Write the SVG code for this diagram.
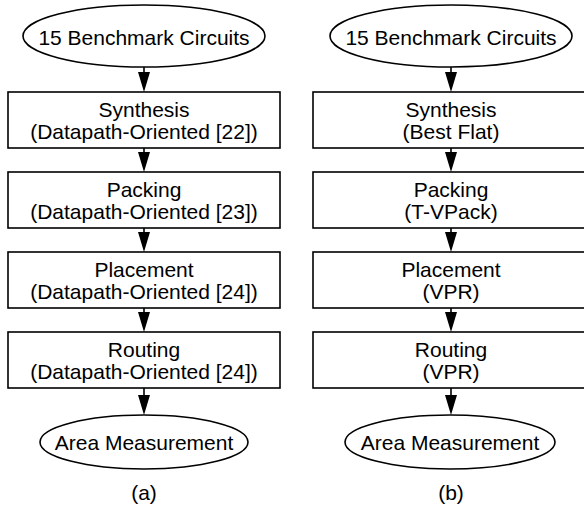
<svg xmlns="http://www.w3.org/2000/svg" width="584" height="510" viewBox="0 0 584 510">
  <style>
    .shape { fill: #ffffff; stroke: #000000; stroke-width: 1.6; }
    .edge { stroke: #000000; stroke-width: 1.6; fill: none; }
    .head { fill: #000000; stroke: none; }
    text { font-family: "Liberation Sans", Arial, sans-serif; font-size: 21px; fill: #000000; text-anchor: middle; }
  </style>
  <rect width="584" height="510" fill="#ffffff"/>

  <!-- flow (a): datapath-oriented CAD flow -->
  <g id="a-start">
    <ellipse class="shape" cx="144" cy="36" rx="121" ry="31"/>
    <text x="144" y="45">15 Benchmark Circuits</text>
  </g>
  <g id="a-synthesis">
    <rect class="shape" x="8" y="92" width="272" height="56"/>
    <text x="144" y="117">Synthesis</text>
    <text x="144" y="139">(Datapath-Oriented [22])</text>
  </g>
  <g id="a-packing">
    <rect class="shape" x="8" y="172" width="272" height="56"/>
    <text x="144" y="197">Packing</text>
    <text x="144" y="219">(Datapath-Oriented [23])</text>
  </g>
  <g id="a-placement">
    <rect class="shape" x="8" y="252" width="272" height="56"/>
    <text x="144" y="277">Placement</text>
    <text x="144" y="299">(Datapath-Oriented [24])</text>
  </g>
  <g id="a-routing">
    <rect class="shape" x="8" y="332" width="272" height="56"/>
    <text x="144" y="357">Routing</text>
    <text x="144" y="379">(Datapath-Oriented [24])</text>
  </g>
  <g id="a-end">
    <ellipse class="shape" cx="144" cy="442" rx="104" ry="27"/>
    <text x="144" y="450">Area Measurement</text>
  </g>
  <text id="a-caption" x="144" y="500">(a)</text>

  <!-- flow (b): conventional flat CAD flow -->
  <g id="b-start">
    <ellipse class="shape" cx="451" cy="36" rx="121" ry="31"/>
    <text x="451" y="45">15 Benchmark Circuits</text>
  </g>
  <g id="b-synthesis">
    <rect class="shape" x="313" y="92" width="276" height="56"/>
    <text x="451" y="117">Synthesis</text>
    <text x="451" y="139">(Best Flat)</text>
  </g>
  <g id="b-packing">
    <rect class="shape" x="313" y="172" width="276" height="56"/>
    <text x="451" y="197">Packing</text>
    <text x="451" y="219">(T-VPack)</text>
  </g>
  <g id="b-placement">
    <rect class="shape" x="313" y="252" width="276" height="56"/>
    <text x="451" y="277">Placement</text>
    <text x="451" y="299">(VPR)</text>
  </g>
  <g id="b-routing">
    <rect class="shape" x="313" y="332" width="276" height="56"/>
    <text x="451" y="357">Routing</text>
    <text x="451" y="379">(VPR)</text>
  </g>
  <g id="b-end">
    <ellipse class="shape" cx="450" cy="442" rx="105" ry="27"/>
    <text x="450" y="450">Area Measurement</text>
  </g>
  <text id="b-caption" x="451" y="500">(b)</text>

  <!-- connectors -->
  <g id="connectors">
    <path class="edge" d="M144 67V73 M144 148V153 M144 228V233 M144 308V313 M144 388V396"/>
    <path class="head" d="M138 72H150L144 92Z M138 152H150L144 172Z M138 232H150L144 252Z M138 312H150L144 332Z M138 395H150L144 415Z"/>
    <path class="edge" d="M451 67V73 M451 148V153 M451 228V233 M451 308V313 M451 388V396"/>
    <path class="head" d="M445 72H457L451 92Z M445 152H457L451 172Z M445 232H457L451 252Z M445 312H457L451 332Z M445 395H457L451 415Z"/>
  </g>
</svg>
